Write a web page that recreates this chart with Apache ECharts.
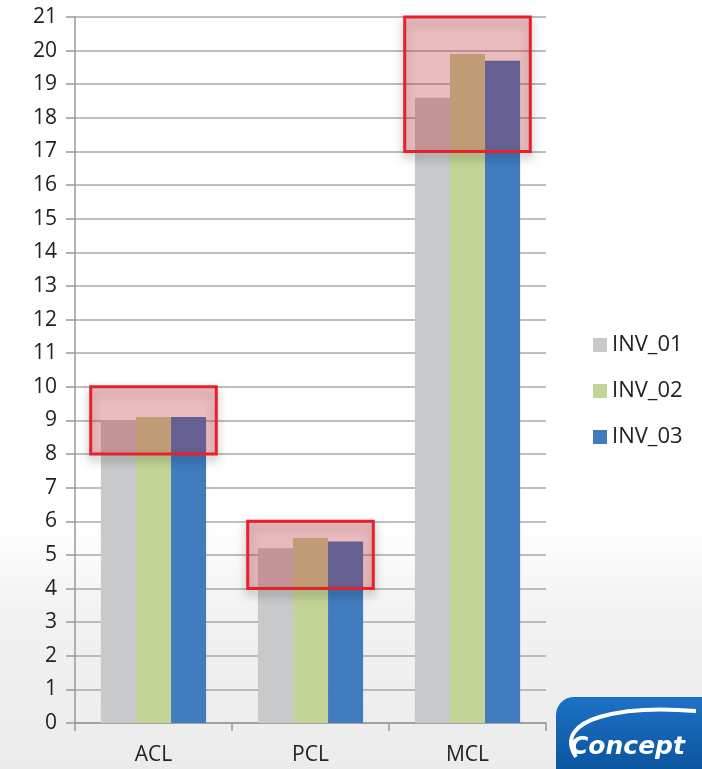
<!DOCTYPE html>
<html>
<head>
<meta charset="utf-8">
<script src="https://cdn.jsdelivr.net/npm/echarts@6/dist/echarts.min.js"></script>
<style>
  html, body { margin: 0; padding: 0; }
  #chart { width: 702px; height: 769px; }
</style>
</head>
<body>
<div id="chart"></div>
<script>
// categories and series
const categories = ['ACL', 'PCL', 'MCL']
const inv01 = [9.0, 5.2, 18.6]
const inv02 = [9.1, 5.5, 19.9]
const inv03 = [9.1, 5.4, 19.7]
// highlighted ranges per category: [index, low, high]
const highlights = [[0, 8, 10], [1, 4, 6], [2, 17, 21]]

const chart = echarts.init(document.getElementById('chart'))

function bar(name, data, color) {
  return {
    name,
    type: 'bar',
    data,
    barGap: 0,
    barCategoryGap: '33%',
    itemStyle: { color },
    z: 2,
  }
}

// red boxes drawn from axis coordinates
function renderBox(params, api) {
  const low = api.coord([api.value(0), api.value(1)])
  const high = api.coord([api.value(0), api.value(2)])
  const w = api.size([1, 0])[0] * 0.8
  return {
    type: 'rect',
    shape: { x: low[0] - w / 2, y: high[1], width: w, height: low[1] - high[1] },
    style: {
      fill: 'rgba(228,40,55,0.25)',
      stroke: '#e8202a',
      lineWidth: 3,
      shadowBlur: 10,
      shadowOffsetY: 5,
      shadowColor: 'rgba(0,0,0,0.3)',
    },
  }
}

chart.setOption({
  backgroundColor: {
    type: 'linear', x: 0, y: 0, x2: 0, y2: 1,
    colorStops: [
      { offset: 0, color: '#ffffff' },
      { offset: 0.68, color: '#ffffff' },
      { offset: 0.8, color: '#f2f2f2' },
      { offset: 1, color: '#ebebeb' },
    ],
  },
  textStyle: { fontFamily: 'Open Sans, Liberation Sans, sans-serif' },
  grid: { left: 75, right: 156, top: 17, bottom: 46 },
  legend: {
    orient: 'vertical',
    left: 588,
    top: 329,
    itemWidth: 14,
    itemHeight: 14,
    itemGap: 24,
    icon: 'rect',
    data: ['INV_01', 'INV_02', 'INV_03'],
    textStyle: { fontSize: 22, color: '#222' },
  },
  xAxis: {
    type: 'category',
    data: categories,
    axisLine: { lineStyle: { color: '#999', width: 1.5 } },
    axisTick: { show: true, length: 8, lineStyle: { color: '#999', width: 1.5 } },
    axisLabel: { fontSize: 21, color: '#222', margin: 22 },
  },
  yAxis: {
    type: 'value',
    min: 0,
    max: 21,
    interval: 1,
    axisLine: { show: true, lineStyle: { color: '#999', width: 1.5 } },
    axisTick: { show: true, length: 9, lineStyle: { color: '#999', width: 1.5 } },
    axisLabel: { fontSize: 21, color: '#222', margin: 18 },
    splitLine: { lineStyle: { color: '#a8a8a8', width: 1.5 } },
  },
  series: [
    bar('INV_01', inv01, '#c8c9cb'),
    bar('INV_02', inv02, '#c3d596'),
    bar('INV_03', inv03, '#407cbe'),
    {
      type: 'custom',
      data: highlights,
      renderItem: renderBox,
      encode: { x: 0, y: [1, 2] },
      silent: true,
      z: 5,
    },
  ],
  graphic: [
    {
      type: 'group',
      right: 0,
      bottom: 0,
      children: [
        {
          type: 'rect',
          shape: { x: 0, y: 0, width: 146, height: 72, r: [18, 0, 0, 0] },
          style: {
            fill: {
              type: 'linear', x: 0, y: 0, x2: 0, y2: 1,
              colorStops: [
                { offset: 0, color: '#1d72c4' },
                { offset: 1, color: '#0b559f' },
              ],
            },
          },
        },
        {
          type: 'bezierCurve',
          shape: { x1: 20, y1: 60, x2: 140, y2: 14, cpx1: -5, cpy1: 20, cpx2: 70, cpy2: 8 },
          style: { stroke: '#ffffff', lineWidth: 4, fill: null },
        },
        {
          type: 'text',
          x: 14,
          y: 38,
          style: {
            text: 'Concept',
            fill: '#ffffff',
            font: 'italic bold 25px "DejaVu Sans", sans-serif',
          },
        },
      ],
    },
  ],
})
</script>
</body>
</html>
